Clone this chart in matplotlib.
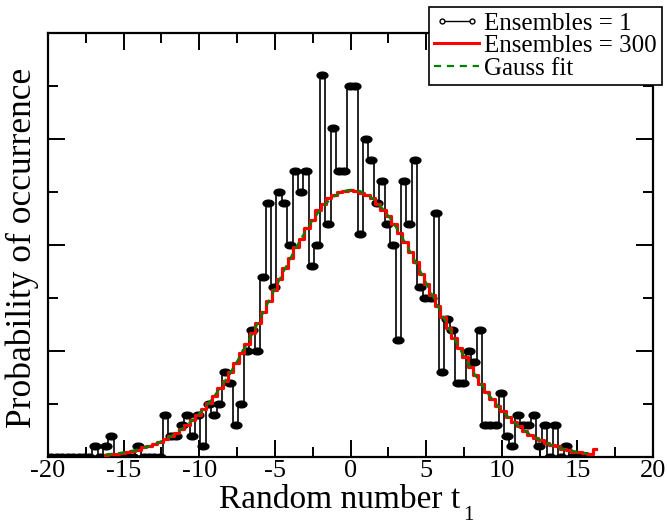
import numpy as np
import matplotlib
matplotlib.use("Agg")
import matplotlib.pyplot as plt
from matplotlib.path import Path
from matplotlib.lines import Line2D
from matplotlib.legend_handler import HandlerLine2D
from matplotlib.ticker import MultipleLocator

plt.rcParams['font.family'] = ['Liberation Serif', 'DejaVu Serif']

# Histogram of a single realisation (counts per bin)
single_start = -20.13
single_width = 0.3583
single_counts = [0, 0, 0, 0, 0, 0, 0, 0, 0, 1,
                 0, 1, 2, 0, 0, 0, 0, 1, 0, 0,
                 0, 0, 4, 2, 2, 3, 4, 2, 4, 1,
                 5, 4, 5, 8, 7, 3, 5, 10, 12, 10,
                 17, 24, 16, 25, 24, 20, 27, 25, 27, 18,
                 20, 36, 22, 31, 27, 27, 35, 35, 21, 30,
                 28, 24, 26, 22, 20, 11, 26, 22, 28, 16,
                 15, 15, 23, 8, 13, 12, 7, 7, 10, 9,
                 12, 3, 3, 3, 6, 2, 1, 4, 3, 3,
                 4, 1, 3, 0, 3, 0, 1, 0, 0, 0]

# Histogram averaged over 300 realisations
ens_start = -16.2
ens_width = 0.36
ens_counts = [0.2, 0.3, 0.3, 0.4, 0.5, 0.6, 0.7, 0.9, 1.0, 1.2,
              1.4, 1.7, 2.0, 2.3, 2.6, 3.0, 3.5, 4.0, 4.5, 5.1,
              5.8, 6.5, 7.2, 8.0, 8.9, 9.8, 10.7, 11.7, 12.6, 13.7,
              14.7, 15.8, 16.8, 17.8, 18.8, 19.8, 20.6, 21.6, 22.4, 23.3,
              23.9, 24.4, 24.7, 25.0, 25.1, 25.2, 25.1, 24.9, 24.7, 24.4,
              23.9, 23.3, 22.7, 22.0, 21.1, 20.3, 19.3, 18.4, 17.3, 16.3,
              15.3, 14.2, 13.2, 12.2, 11.2, 10.3, 9.4, 8.5, 7.7, 6.9,
              6.1, 5.5, 4.8, 4.3, 3.8, 3.3, 2.9, 2.5, 2.1, 1.8,
              1.6, 1.3, 1.1, 1.0, 0.8, 0.7, 0.5, 0.5, 0.4, 0.3,
              0.8]

# Gaussian fit parameters
gauss_amp = 25.2
gauss_mu = 0.1
gauss_sigma = 5.3
gauss_lo, gauss_hi = -16.2, 15.7

x_ticks = [-20, -15, -10, -5, 0, 5, 10, 15, 20]
x_ticklabels = ['-20', '-15', '-10', '-5', '0', '5', '10', '15', '20']

xs = single_start + single_width * np.arange(len(single_counts))
xe = ens_start + ens_width * np.arange(len(ens_counts))
xg = np.linspace(gauss_lo, gauss_hi, 400)
yg = gauss_amp * np.exp(-(xg - gauss_mu) ** 2 / (2 * gauss_sigma ** 2))

# flattened filled ellipse used as the symbol of the single realisation
t = np.linspace(0, 2 * np.pi, 60)
ellipse = Path(np.column_stack([np.cos(t), 0.62 * np.sin(t)]), closed=True)

W, H = 667, 525
fig = plt.figure(figsize=(W / 100, H / 100), dpi=100)
ax = fig.add_axes([48 / W, 1 - 457 / H, 605 / W, 424 / H])

ax.plot(xs, single_counts, color='black', lw=1.2, drawstyle='steps-mid',
        zorder=2)
ax.plot(xs, single_counts, ls='none', marker=ellipse, ms=7.8,
        mfc='black', mec='black', zorder=2.5)
ax.step(xe, ens_counts, where='mid', color='red', lw=2.3, zorder=3)
ax.plot(xg, yg, color='green', lw=1.6, ls=(0, (3.2, 2.6)), zorder=4)

ax.set_xlim(-20, 20)
ax.set_ylim(0, 40)
ax.set_xticks(x_ticks)
ax.set_xticklabels(x_ticklabels)
ax.xaxis.set_minor_locator(MultipleLocator(2.5))
ax.yaxis.set_major_locator(MultipleLocator(10))
ax.yaxis.set_minor_locator(MultipleLocator(5))
ax.tick_params(which='both', direction='in', top=True, right=True, width=1.4)
ax.tick_params(which='major', length=12, labelsize=19, pad=2)
ax.tick_params(which='minor', length=7)
ax.tick_params(axis='y', labelleft=False)
for s in ax.spines.values():
    s.set_linewidth(1.6)

fig.text(22 / W, 1 - 248 / H, 'Probability of occurrence', rotation=90,
         ha='center', va='center', fontsize=25.5)
fig.text(340 / W, 1 - 500 / H, 'Random number t', ha='center', va='center',
         fontsize=24)
fig.text(468 / W, 1 - 516 / H, '1', ha='center', va='center', fontsize=15)

h1 = Line2D([], [], color='black', lw=1.0, marker='o', ms=3.5, mfc='white',
            mec='black', markevery=[1])
h2 = Line2D([], [], color='red', lw=2.2)
h3 = Line2D([], [], color='green', lw=1.6, ls=(0, (3.2, 2.6)))
leg = ax.legend([h1, h2, h3], ['Ensembles = 1', 'Ensembles = 300', 'Gauss fit'],
                handler_map={h1: HandlerLine2D(numpoints=2)},
                loc='upper right', bbox_to_anchor=(1.015, 1.061),
                borderaxespad=0, fontsize=18, frameon=True, fancybox=False,
                edgecolor='black', framealpha=1, handlelength=1.8,
                handletextpad=0.2, labelspacing=0.0, borderpad=0.2)
leg.get_frame().set_linewidth(1.2)
leg.set_zorder(10)

fig.savefig('out.png', dpi=100)
